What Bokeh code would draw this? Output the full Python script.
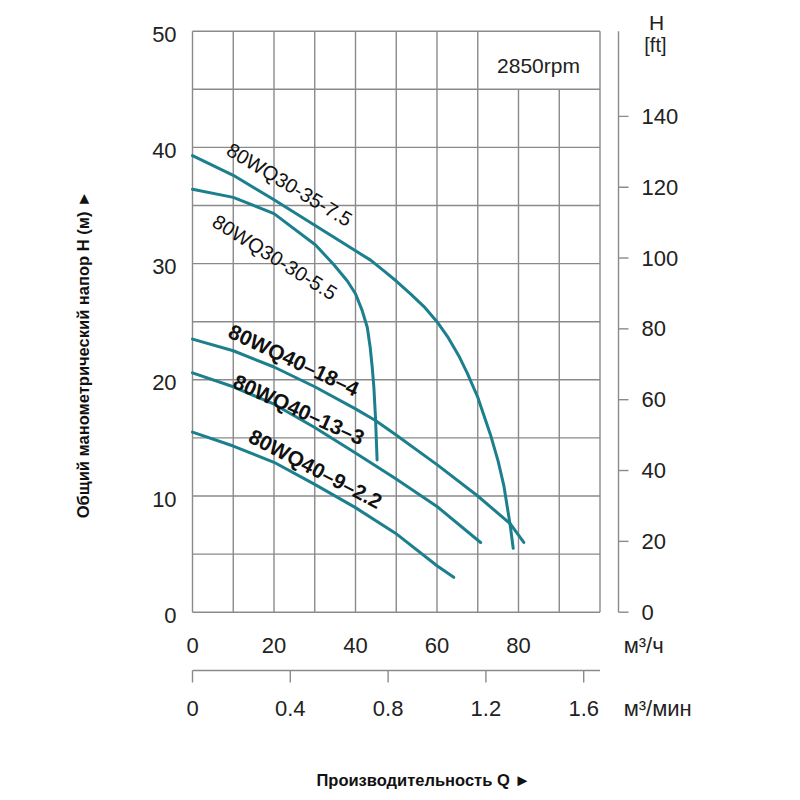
import numpy as np
from bokeh.plotting import figure
from bokeh.models import Range1d
from bokeh.core.properties import value
from bokeh.embed import file_html
from bokeh.resources import INLINE

FONT = "Liberation Sans"
TEAL = "#1b7f8e"
GRID = "#8a8a8a"
INK = "#222222"
M_TO_FT = 3.28084

# pump curves: Q in m3/h, H in m
q_35_75 = [0, 10, 20, 30, 40, 43.7, 46.9, 50, 53.5, 56.8, 60, 62.8, 65.3, 67.4, 70,
           73.1, 75, 76.4, 78, 78.7]
h_35_75 = [39.3, 37.6, 35.5, 33.3, 31.1, 30.3, 29.4, 28.5, 27.4, 26.3, 25.0, 23.6, 22.1,
           20.6, 18.5, 15.3, 13.0, 10.9, 7.4, 5.5]

q_30_55 = [0, 10, 20, 30.2, 34.7, 38.0, 40, 41.6, 42.9, 43.6, 44.1, 44.5, 44.9, 45.3]
h_30_55 = [36.4, 35.7, 34.3, 31.6, 29.9, 28.5, 27.4, 26.0, 24.5, 22.8, 21.1, 19.4, 16.8, 13.1]

q_18_4 = [0, 10, 20, 30, 40, 44.9, 49.8, 60, 70, 78, 81.3]
h_18_4 = [23.5, 22.5, 21.1, 19.4, 17.5, 16.5, 15.3, 12.7, 10.0, 7.6, 6.0]

q_13_3 = [0, 10, 20, 30, 40, 49.8, 60, 70.7]
h_13_3 = [20.6, 19.4, 17.9, 15.9, 13.7, 11.5, 9.1, 6.0]

q_9_22 = [0, 10, 20, 30, 40, 49.8, 60, 64.1]
h_9_22 = [15.5, 14.3, 12.9, 11.0, 9.0, 6.8, 4.0, 3.0]

names = ["80WQ30-35-7.5", "80WQ30-30-5.5", "80WQ40\u201318\u20134",
         "80WQ40\u201313\u20133", "80WQ40\u20139\u20132.2"]
curves_q = [q_35_75, q_30_55, q_18_4, q_13_3, q_9_22]
curves_h = [h_35_75, h_30_55, h_18_4, h_13_3, h_9_22]

# ticks
h_ticks = [0, 10, 20, 30, 40, 50]
ft_ticks = [0, 20, 40, 60, 80, 100, 120, 140]
qh_ticks = [0, 20, 40, 60, 80]
qmin_ticks = [0, 0.4, 0.8, 1.2, 1.6]
q_grid = [0, 10, 20, 30, 40, 50, 60, 70, 80, 90, 100]
h_grid = [0, 5, 10, 15, 20, 25, 30, 35, 40, 45, 50]

# where the labels sit along the curves (x, y in data units, angle deg, bold)
label_layout = [
    (23.8, 36.8, -31, False),
    (20.2, 30.55, -32, False),
    (24.9, 21.7, -25.2, True),
    (26.1, 17.45, -24.5, True),
    (30.2, 12.35, -27.6, True),
]

# the frame covers the whole canvas, the scales are those of the m3/h and m grid
W = H = 796
PX_X = 4.075   # px per m3/h
PX_Y = 11.62   # px per m
X_LEFT = -192 / PX_X
Y_TOP = 50 + 30.7 / PX_Y

p = figure(width=W, height=H, min_border=0,
           x_range=Range1d(X_LEFT, X_LEFT + W / PX_X),
           y_range=Range1d(Y_TOP - H / PX_Y, Y_TOP),
           x_axis_location=None, y_axis_location=None,
           output_backend="svg", toolbar_location=None)
p.outline_line_color = None
p.grid.visible = False
p.background_fill_color = "white"
p.border_fill_color = "white"


def txt(x, y, s, size="22px", align="left", style="normal", color=INK, angle=0,
        y_offset=0):
    p.text(x=x, y=y, text=s, angle=angle, y_offset=y_offset,
           text_font=value(FONT), text_font_size=size, text_font_style=style,
           text_color=color, text_align=align, text_baseline="middle")


# grid; the two right inner lines stop under the rpm box
v_top = [45 if q in (80, 90) else 50 for q in q_grid]
p.segment(x0=q_grid, y0=[0] * len(q_grid), x1=q_grid, y1=v_top,
          line_color=GRID, line_width=1.4)
p.segment(x0=[0] * len(h_grid), y0=h_grid, x1=[100] * len(h_grid), y1=h_grid,
          line_color=GRID, line_width=1.4)

for q, h in zip(curves_q, curves_h):
    p.line(q, h, line_color=TEAL, line_width=3, line_cap="round", line_join="round")

for name, (lx, ly, ang, bold) in zip(names, label_layout):
    txt([lx], [ly], [name], size="21px" if bold else "20px", align="center",
        style="bold" if bold else "normal", color="#111111", angle=np.radians(ang))

txt([84.9], [47.05], ["2850rpm"], size="21px", align="center")

# left scale, metres
txt([-3.9] * len(h_ticks), h_ticks, [str(t) for t in h_ticks], align="right", y_offset=3)
txt([-26.75], [22.18], ["Общий манометрический напор H (м) \u25ba"], size="16.5px",
    align="center", style="bold", color="#111111", angle=np.pi / 2)

# right scale, feet
ax_x = 104.54
tick_len_x = 10 / PX_X
ft_in_m = [t / M_TO_FT for t in ft_ticks]
p.segment(x0=[ax_x], y0=[0], x1=[ax_x], y1=[50], line_color=GRID, line_width=1.4)
p.segment(x0=[ax_x] * len(ft_in_m), y0=ft_in_m, x1=[ax_x + tick_len_x] * len(ft_in_m),
          y1=ft_in_m, line_color=GRID, line_width=1.4)
txt([110.2] * len(ft_ticks), ft_in_m, [str(t) for t in ft_ticks])
txt([113.9], [50.75], ["H"], size="21px", align="center")
txt([113.6], [48.77], ["[ft]"], size="20px", align="center")

# m3/h scale
txt(qh_ticks, [-2.87] * len(qh_ticks), [str(t) for t in qh_ticks], align="center")
txt([105.8], [-2.87], ["м³/ч"])

# m3/min scale
ax_y = -5.02
tick_len_y = 12 / PX_Y
qmin_x = [t * 60 for t in qmin_ticks]
p.segment(x0=[0], y0=[ax_y], x1=[100], y1=[ax_y], line_color=GRID, line_width=1.4)
p.segment(x0=qmin_x, y0=[ax_y] * len(qmin_x), x1=qmin_x,
          y1=[ax_y - tick_len_y] * len(qmin_x), line_color=GRID, line_width=1.4)
txt(qmin_x, [-8.29] * len(qmin_x), ["%g" % t for t in qmin_ticks], align="center")
txt([105.8], [-8.29], ["м³/мин"])

txt([56.7], [-14.48], ["Производительность Q \u25ba"], size="16.5px", align="center",
    style="bold", color="#111111")

open("out.html", "w").write(file_html(p, INLINE))
